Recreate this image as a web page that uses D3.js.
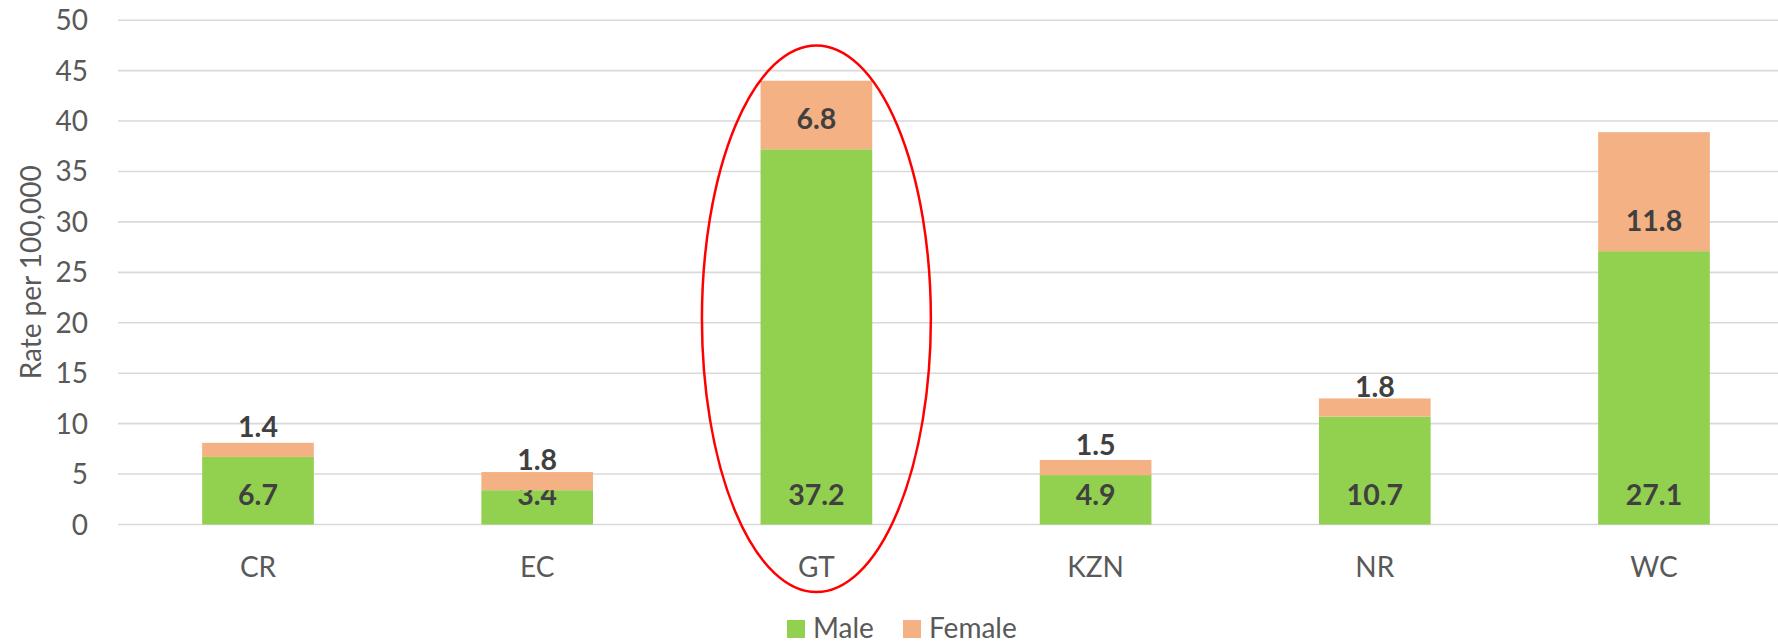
<!DOCTYPE html>
<meta charset="utf-8">
<style>
body { margin: 0; background: #fff; }
svg { display: block; font-family: Lato, "Open Sans", sans-serif; }
.tick-label { fill: #595959; font-size: 28px; }
.value { fill: #404040; font-size: 28.5px; font-weight: bold; }
</style>
<body>
<script src="https://d3js.org/d3.v7.min.js"></script>
<script>

var categories = ["CR", "EC", "GT", "KZN", "NR", "WC"];
var male   = [6.7, 3.4, 37.2, 4.9, 10.7, 27.1];
var female = [1.4, 1.8, 6.8, 1.5, 1.8, 11.8];
var yTicks = [0, 5, 10, 15, 20, 25, 30, 35, 40, 45, 50];
var seriesNames = ["Male", "Female"];
var colors = ["#92D050", "#F4B183"];

var width = 1778, height = 643;

var svg = d3.select("body").append("svg")
    .attr("width", width)
    .attr("height", height);

var x = d3.scaleBand()
    .domain(categories)
    .range([118.4, 1793.6])
    .paddingInner(0.6)
    .paddingOuter(0.3);

var y = d3.scaleLinear()
    .domain([0, 50])
    .range([524.5, 20.2]);

// gridlines
svg.append("g").selectAll("line")
    .data(yTicks)
  .enter().append("line")
    .attr("x1", 118)
    .attr("x2", 1794)
    .attr("y1", function(d) { return y(d); })
    .attr("y2", function(d) { return y(d); })
    .attr("stroke", "#D9D9D9")
    .attr("stroke-width", 1.6);

// y tick labels
svg.append("g").selectAll("text")
    .data(yTicks)
  .enter().append("text")
    .attr("class", "tick-label")
    .attr("x", 88)
    .attr("y", function(d) { return y(d) + 10; })
    .attr("text-anchor", "end")
    .text(function(d) { return d; });

svg.append("text")
    .attr("class", "tick-label")
    .attr("transform", "translate(41," + (y(25)) + ") rotate(-90)")
    .attr("text-anchor", "middle")
    .text("Rate per 100,000");

var rows = categories.map(function(c, i) {
  return {cat: c, male: male[i], female: female[i]};
});

var stack = d3.stack().keys(["male", "female"]);
var layers = stack(rows);

var layer = svg.append("g").selectAll("g")
    .data(layers)
  .enter().append("g")
    .attr("fill", function(d, i) { return colors[i]; });

layer.selectAll("rect")
    .data(function(d) { return d; })
  .enter().append("rect")
    .attr("x", function(d) { return x(d.data.cat); })
    .attr("width", x.bandwidth())
    .attr("y", function(d) { return y(d[1]); })
    .attr("height", function(d) { return y(d[0]) - y(d[1]); });

// value labels (inside base)
layer.selectAll("text")
    .data(function(d) { return d.map(function(p) { return {p: p, key: d.key}; }); })
  .enter().append("text")
    .attr("class", "value")
    .attr("x", function(d) { return x(d.p.data.cat) + x.bandwidth() / 2; })
    .attr("y", function(d) { return y(d.p[0]) - 20; })
    .attr("text-anchor", "middle")
    .text(function(d) { return d3.format(".1f")(d.p.data[d.key]); });

// category labels
svg.append("g").selectAll("text")
    .data(categories)
  .enter().append("text")
    .attr("class", "tick-label")
    .attr("x", function(d) { return x(d) + x.bandwidth() / 2; })
    .attr("y", 577)
    .attr("text-anchor", "middle")
    .text(function(d) { return d; });

// highlight ellipse round GT
svg.append("ellipse")
    .attr("cx", x("GT") + x.bandwidth() / 2)
    .attr("cy", (y(47.5) + y(-6.7)) / 2)
    .attr("rx", x.bandwidth() * 1.025)
    .attr("ry", (y(-6.7) - y(47.5)) / 2)
    .attr("fill", "none")
    .attr("stroke", "#FF0000")
    .attr("stroke-width", 2.5);

// legend
var legendX = [787, 903];
var legend = svg.append("g").selectAll("g")
    .data(seriesNames)
  .enter().append("g")
    .attr("transform", function(d, i) { return "translate(" + legendX[i] + ",620)"; });

legend.append("rect")
    .attr("width", 18)
    .attr("height", 18)
    .attr("fill", function(d, i) { return colors[i]; });

legend.append("text")
    .attr("class", "tick-label")
    .attr("x", 26)
    .attr("y", 18)
    .text(function(d) { return d; });

</script>
